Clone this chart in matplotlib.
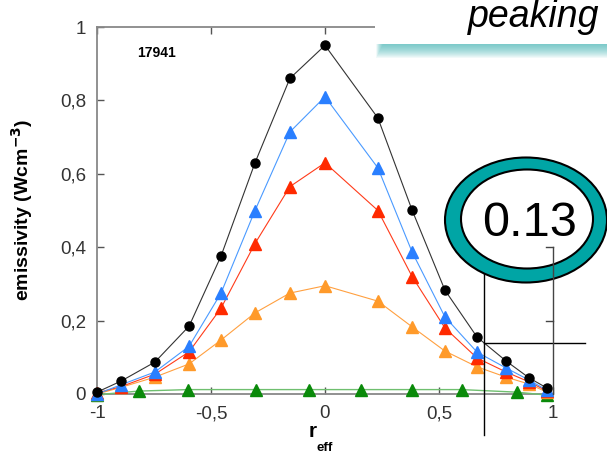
import matplotlib.pyplot as plt
from matplotlib.patches import Rectangle, Ellipse
from matplotlib.lines import Line2D

plt.rcParams['font.family'] = ['Liberation Sans', 'DejaVu Sans']

# profile data (r_eff vs emissivity)
r = [-1, -0.895, -0.746, -0.596, -0.456, -0.307, -0.154, 0, 0.232, 0.382, 0.526, 0.667, 0.794, 0.895, 0.974]
black = [0.005, 0.035, 0.087, 0.185, 0.376, 0.63, 0.86, 0.95, 0.752, 0.501, 0.283, 0.155, 0.09, 0.044, 0.016]
blue = [0.0, 0.025, 0.06, 0.13, 0.275, 0.5, 0.714, 0.81, 0.616, 0.387, 0.21, 0.114, 0.071, 0.038, 0.01]
red = [0.003, 0.02, 0.054, 0.115, 0.234, 0.41, 0.565, 0.63, 0.5, 0.32, 0.18, 0.098, 0.06, 0.033, 0.008]
orange = [0.0, 0.018, 0.046, 0.082, 0.147, 0.221, 0.275, 0.295, 0.253, 0.183, 0.117, 0.074, 0.046, 0.027, 0.005]
r_green = [-1, -0.816, -0.6, -0.303, -0.07, 0.158, 0.382, 0.6, 0.842, 0.974]
green = [-0.002, 0.008, 0.012, 0.012, 0.012, 0.012, 0.012, 0.012, 0.005, -0.003]

yticks = [0, 0.2, 0.4, 0.6, 0.8, 1]
ylabels = ['0', '0,2', '0,4', '0,6', '0,8', '1']
xticks = [-1, -0.5, 0, 0.5, 1]
xlabels = ['-1', '-0,5', '0', '0,5', '1']

W, H = 607, 462
fig = plt.figure(figsize=(W / 100, H / 100), dpi=100)
ax = fig.add_axes([97 / W, 1 - 394 / H, 456 / W, 367 / H])

ax.plot(r_green, green, color='#6fbf6f', lw=1, marker='^', ms=8, mfc='#0a8a0a', mec='#0a8a0a', clip_on=False, zorder=3)
ax.plot(r, orange, color='#ffa040', lw=0.8, marker='^', ms=8, mfc='#ff9a2a', mec='#ff9a2a', clip_on=False, zorder=4)
ax.plot(r, red, color='#ff3b1a', lw=0.8, marker='^', ms=8, mfc='#ff2a00', mec='#ff2a00', clip_on=False, zorder=5)
ax.plot(r, blue, color='#4a9aff', lw=0.8, marker='^', ms=8, mfc='#2a7fff', mec='#2a7fff', clip_on=False, zorder=6)
ax.plot(r, black, color='#333333', lw=0.8, marker='o', ms=6.5, mfc='black', mec='black', clip_on=False, zorder=7)

ax.set_xlim(-1, 1)
ax.set_ylim(0, 1)
ax.set_xticks(xticks)
ax.set_xticklabels(xlabels)
ax.set_yticks(yticks)
ax.set_yticklabels(ylabels)
ax.tick_params(direction='in', length=5, width=1, color='#555555', labelsize=13.5,
               labelcolor='#333333', pad=8, top=True)
for s in ['left', 'bottom', 'top']:
    ax.spines[s].set_color('#888888')
    ax.spines[s].set_linewidth(1.3)
ax.spines['right'].set_visible(False)

ax.set_ylabel('emissivity (Wcm$^{\\mathbf{-3}}$)', fontsize=14, fontweight='bold', labelpad=18)
ax.text(-0.825, 0.93, '17941', fontsize=10, fontweight='bold', ha='left', va='center')

def fx(px):
    return px / W

def fy(py):
    return 1 - py / H

# x label drawn by hand to get the low subscript
fig.text(fx(309), fy(437), 'r', fontsize=15, fontweight='bold', ha='left', va='baseline')
fig.text(fx(317), fy(451), 'eff', fontsize=9.5, fontweight='bold', ha='left', va='baseline')

# crosshair lines
fig.add_artist(Line2D([fx(484), fx(484)], [fy(265), fy(435)], color='black', lw=1, zorder=8))
fig.add_artist(Line2D([fx(484), fx(585)], [fy(343), fy(343)], color='black', lw=1, zorder=8))

# teal ring with value
fig.add_artist(Ellipse((fx(526), fy(220)), 162 / W, 125 / H, facecolor='#00a5a5', edgecolor='black', lw=1.5, zorder=9))
fig.add_artist(Ellipse((fx(527), fy(219)), 132 / W, 99 / H, facecolor='white', edgecolor='black', lw=1.5, zorder=10))
fig.text(fx(530), fy(224), '0.13', fontsize=35, ha='center', va='center', zorder=11)

# partial right spine, drawn above the ring
fig.add_artist(Line2D([1, 1], [0, 0.4], transform=ax.transData, color='#444444', lw=1, zorder=11.5))
for yv in [0.2, 0.4]:
    fig.add_artist(Line2D([0.97, 1], [yv, yv], transform=ax.transData, color='#444444', lw=1, zorder=11.5))

# "peaking" label box with soft teal shadow
for i in range(14):
    fig.add_artist(Rectangle((fx(376 + i * 0.5), fy(44 + 14 - i)), 1, (14 - i) / H, facecolor='#3ab3b3',
                             alpha=0.07, edgecolor='none', zorder=12))
fig.add_artist(Rectangle((fx(375), fy(44)), 1, 44 / H, facecolor='white', edgecolor='none', zorder=13))
fig.text(fx(599), fy(27), 'peaking', fontsize=27, style='italic', ha='right', va='baseline', zorder=14)

fig.savefig('out.png', dpi=100)
